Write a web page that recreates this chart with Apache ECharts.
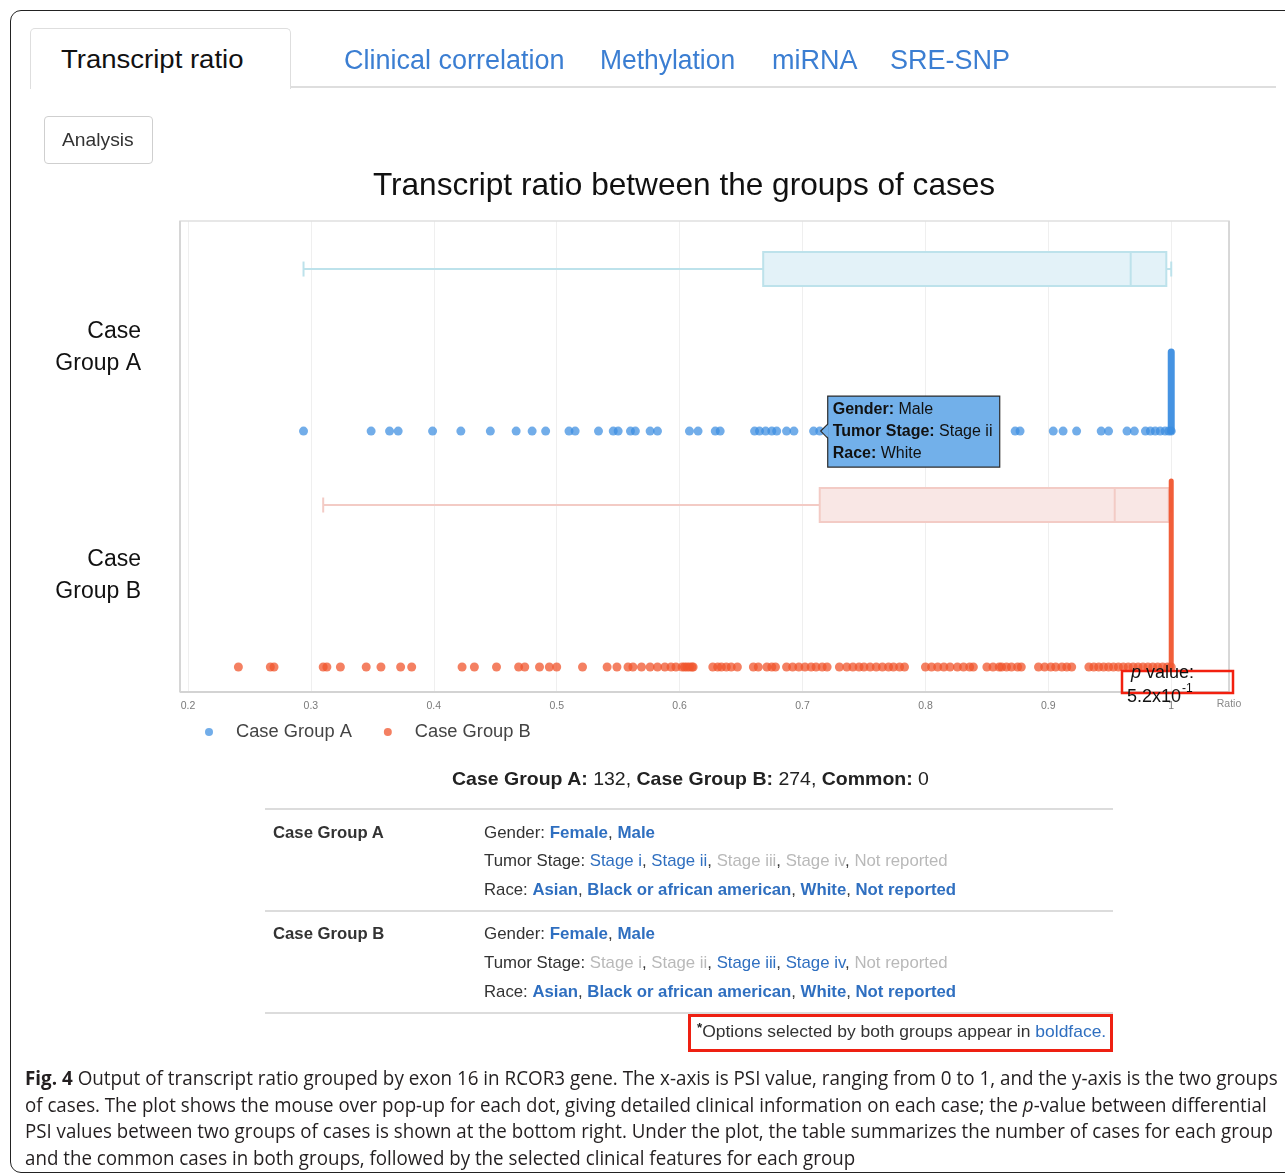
<!DOCTYPE html>
<html>
<head>
<meta charset="utf-8">
<script src="https://cdn.jsdelivr.net/npm/echarts@6/dist/echarts.min.js"></script>
<style>
html,body{margin:0;padding:0;background:#fff}
body{width:1285px;height:1176px;overflow:hidden;position:relative;font-family:"Liberation Sans",Arial,Helvetica,sans-serif;color:#333}
#chart{position:absolute;left:0;top:0;width:1285px;height:760px;z-index:1}
.box{position:absolute;box-sizing:border-box;z-index:2}
.t{position:absolute;white-space:nowrap;line-height:1.2;transform-origin:0 50%;z-index:3}
.lk{color:#2f6fc0}
.bl{color:#2f6fc0;font-weight:bold}
.gr{color:#b9b9b9}
.tab{color:#3b7ed2;font-size:27px}
.tb{font-size:17px;color:#333}
.cap{font-family:"Open Sans","Noto Sans",sans-serif;font-size:20px;color:#231f20}
</style>
</head>
<body>
<div id="chart"></div>

<div class="box" style="left:10px;top:10px;width:1300px;height:1163px;border:1.6px solid #222;border-radius:11px;"></div>
<div class="box" style="left:30px;top:28px;width:261px;height:61px;border:1px solid #dedede;border-bottom:none;border-radius:5px 5px 0 0;background:#fff"></div>
<div class="box" style="left:290px;top:86px;width:986px;height:2px;background:#dedede"></div>
<div class="box" style="left:44px;top:116px;width:109px;height:48px;border:1px solid #cfcfcf;border-radius:4px"></div>
<div class="box" style="left:265px;top:808px;width:848px;height:2px;background:#dcdcdc"></div>
<div class="box" style="left:265px;top:910px;width:848px;height:2px;background:#dcdcdc"></div>
<div class="box" style="left:265px;top:1012px;width:848px;height:2px;background:#dcdcdc"></div>
<div class="box" style="left:688px;top:1014px;width:425px;height:38px;border:3px solid #ee2012"></div>

<div class="t" style="font-size:26px;color:#111" data-x="61" data-y="59" data-w="182">Transcript ratio</div>
<div class="t tab" data-x="344" data-y="60" data-w="221">Clinical correlation</div>
<div class="t tab" data-x="600" data-y="60" data-w="135">Methylation</div>
<div class="t tab" data-x="772" data-y="60" data-w="86">miRNA</div>
<div class="t tab" data-x="890" data-y="60" data-w="120">SRE-SNP</div>
<div class="t" style="font-size:19px;color:#333" data-x="62" data-y="140" data-w="72">Analysis</div>

<div class="t" style="font-size:19px;color:#222" data-x="452" data-y="779" data-w="477"><b>Case Group A:</b> 132, <b>Case Group B:</b> 274, <b>Common:</b> 0</div>

<div class="t tb" style="font-weight:bold;color:#333" data-x="273" data-y="833" data-w="111">Case Group A</div>
<div class="t tb" data-x="484" data-y="833" data-w="171">Gender: <span class="bl">Female</span>, <span class="bl">Male</span></div>
<div class="t tb" data-x="484" data-y="861" data-w="464">Tumor Stage: <span class="lk">Stage i</span>, <span class="lk">Stage ii</span>, <span class="gr">Stage iii</span>, <span class="gr">Stage iv</span>, <span class="gr">Not reported</span></div>
<div class="t tb" data-x="484" data-y="890" data-w="472">Race: <span class="bl">Asian</span>, <span class="bl">Black or african american</span>, <span class="bl">White</span>, <span class="bl">Not reported</span></div>

<div class="t tb" style="font-weight:bold;color:#333" data-x="273" data-y="934" data-w="111">Case Group B</div>
<div class="t tb" data-x="484" data-y="934" data-w="171">Gender: <span class="bl">Female</span>, <span class="bl">Male</span></div>
<div class="t tb" data-x="484" data-y="963" data-w="464">Tumor Stage: <span class="gr">Stage i</span>, <span class="gr">Stage ii</span>, <span class="lk">Stage iii</span>, <span class="lk">Stage iv</span>, <span class="gr">Not reported</span></div>
<div class="t tb" data-x="484" data-y="992" data-w="472">Race: <span class="bl">Asian</span>, <span class="bl">Black or african american</span>, <span class="bl">White</span>, <span class="bl">Not reported</span></div>

<div class="t tb" data-x="697" data-y="1031" data-w="409"><b style="font-size:13px;vertical-align:5px;color:#222">*</b>Options selected by both groups appear in <span class="lk">boldface.</span></div>

<div class="t cap" data-x="25" data-y="1078" data-w="1253"><b>Fig. 4</b> Output of transcript ratio grouped by exon 16 in RCOR3 gene. The x-axis is PSI value, ranging from 0 to 1, and the y-axis is the two groups</div>
<div class="t cap" data-x="25" data-y="1105" data-w="1242">of cases. The plot shows the mouse over pop-up for each dot, giving detailed clinical information on each case; the <i>p</i>-value between differential</div>
<div class="t cap" data-x="25" data-y="1131" data-w="1248">PSI values between two groups of cases is shown at the bottom right. Under the plot, the table summarizes the number of cases for each group</div>
<div class="t cap" data-x="25" data-y="1158" data-w="830">and the common cases in both groups, followed by the selected clinical features for each group</div>

<script>
// ---------------- data ----------------
const chartTitle = 'Transcript ratio between the groups of cases';
const groupNames = ['Case Group A', 'Case Group B'];
const xTickValues = [0.2, 0.3, 0.4, 0.5, 0.6, 0.7, 0.8, 0.9, 1.0];
const xAxisName = 'Ratio';

// PSI ratio of each visible case dot
const groupARatios = [0.294, 0.349, 0.364, 0.371, 0.399, 0.422, 0.446, 0.467, 0.480, 0.491,
  0.510, 0.515, 0.534, 0.546, 0.550, 0.560, 0.564, 0.576, 0.582, 0.608, 0.615, 0.629, 0.633,
  0.661, 0.665, 0.670, 0.675, 0.679, 0.687, 0.693, 0.709, 0.714, 0.740, 0.770, 0.800, 0.830,
  0.873, 0.877, 0.904, 0.912, 0.923, 0.943, 0.949, 0.964, 0.970, 0.979, 0.983, 0.987, 0.991,
  0.995, 0.998, 1.0];
const groupBRatios = [0.241, 0.267, 0.270, 0.310, 0.313, 0.324, 0.345, 0.357, 0.373, 0.382,
  0.423, 0.433, 0.451, 0.469, 0.474, 0.486, 0.494, 0.500, 0.521, 0.541, 0.549, 0.558, 0.562,
  0.569, 0.576, 0.582, 0.588, 0.593, 0.597, 0.602, 0.604, 0.606, 0.608, 0.610, 0.611,
  0.627, 0.631, 0.634, 0.638, 0.642, 0.647, 0.660, 0.664, 0.671, 0.675, 0.678,
  0.687, 0.692, 0.697, 0.702, 0.707, 0.711, 0.716, 0.720, 0.730,
  0.736, 0.741, 0.746, 0.750, 0.755, 0.760, 0.765, 0.770, 0.774, 0.779, 0.783,
  0.800, 0.805, 0.810, 0.815, 0.820, 0.826, 0.831, 0.836, 0.839,
  0.850, 0.855, 0.860, 0.862, 0.866, 0.870, 0.875, 0.878,
  0.892, 0.897, 0.902, 0.906, 0.911, 0.915, 0.919,
  0.933, 0.937, 0.941, 0.945, 0.949, 0.953, 0.957, 0.961, 0.965, 0.969, 0.973, 0.977,
  0.981, 0.985, 0.989, 0.993, 0.997, 1.0];

// box statistics: [min, Q1, median, Q3, max]
const groupABox = [0.294, 0.668, 0.967, 0.996, 1.0];
const groupBBox = [0.310, 0.714, 0.954, 0.998, 1.0];

// many cases sit exactly at ratio 1 (drawn as a stacked bar of points)
const stackedRatio = 1.0;

// hovered case shown in the pop-up
const hoverRatio = 0.714;
const hoverInfo = [['Gender', 'Male'], ['Tumor Stage', 'Stage ii'], ['Race', 'White']];

const pValueMantissa = '5.2x10';
const pValueExponent = '-1';

// ---------------- layout (vertical rows on hidden value axis 0..10) ----------------
const rows = {
  A: { box: 8.98, points: 5.54, stackTop: 7.22, label: 7.32 },
  B: { box: 3.97, points: 0.53, stackTop: 4.48, label: 2.46 }
};
const X_MIN = 0.2, X_MAX = 1.047, Y_MIN = 0, Y_MAX = 10;

const colA = '#3b8de0', colB = '#f0552e';

function renderBox(params, api) {
  const pos = api.value(0);
  const xs = [1, 2, 3, 4, 5].map(i => api.coord([api.value(i), pos])[0]);
  const y = api.coord([api.value(1), pos])[1];
  const h = 34, cap = 7.5;
  const st = params.seriesIndex === 0
    ? { stroke: '#bde2eb', fill: '#e3f2f8' }
    : { stroke: '#f3cbc5', fill: '#f9e7e5' };
  const ls = { stroke: st.stroke, lineWidth: 2 };
  return {
    type: 'group',
    children: [
      { type: 'line', shape: { x1: xs[0], y1: y, x2: xs[1], y2: y }, style: ls },
      { type: 'line', shape: { x1: xs[3], y1: y, x2: xs[4], y2: y }, style: ls },
      { type: 'line', shape: { x1: xs[0], y1: y - cap, x2: xs[0], y2: y + cap }, style: ls },
      { type: 'line', shape: { x1: xs[4], y1: y - cap, x2: xs[4], y2: y + cap }, style: ls },
      { type: 'rect', shape: { x: xs[1], y: y - h / 2, width: xs[3] - xs[1], height: h },
        style: { fill: st.fill, stroke: st.stroke, lineWidth: 2 } },
      { type: 'line', shape: { x1: xs[2], y1: y - h / 2, x2: xs[2], y2: y + h / 2 }, style: ls }
    ]
  };
}

const chart = echarts.init(document.getElementById('chart'), null, { renderer: 'canvas' });
const baseFont = '"Liberation Sans", Arial, Helvetica, sans-serif';

const option = {
  animation: false,
  backgroundColor: 'transparent',
  textStyle: { fontFamily: baseFont },
  title: {
    text: chartTitle, left: 684, top: 170, textAlign: 'center', padding: 0,
    textStyle: { fontSize: 31.6, fontWeight: 'normal', color: '#111', fontFamily: baseFont }
  },
  legend: {
    data: groupNames, left: 200, top: 718, icon: 'circle',
    itemWidth: 8, itemHeight: 8, itemGap: 32,
    textStyle: { fontSize: 18.3, color: '#444', fontFamily: baseFont, padding: [0, 0, 0, 18] }
  },
  grid: { left: 188, right: 56, top: 221, bottom: 68, containLabel: false },
  xAxis: {
    type: 'value', min: X_MIN, max: X_MAX, interval: 0.1,
    name: xAxisName, nameLocation: 'end', nameGap: 0,
    nameTextStyle: { color: '#8a8a8a', fontSize: 10.5, align: 'center', verticalAlign: 'top', padding: [7, 0, 0, 0] },
    axisLine: { show: false }, axisTick: { show: false },
    axisLabel: {
      color: '#7a7a7a', fontSize: 10.5, margin: 9, showMaxLabel: false,
      formatter: v => {
        const hit = xTickValues.find(t => Math.abs(t - v) < 1e-6);
        return hit === undefined ? '' : String(+hit.toFixed(1));
      }
    },
    splitLine: { show: true, lineStyle: { color: '#efefef', width: 1 } }
  },
  yAxis: {
    type: 'value', min: Y_MIN, max: Y_MAX,
    axisLine: { show: false }, axisTick: { show: false }, splitLine: { show: false },
    axisLabel: {
      customValues: [rows.A.label, rows.B.label],
      formatter: v => {
        const name = Math.abs(v - rows.A.label) < 0.01 ? groupNames[0]
          : (Math.abs(v - rows.B.label) < 0.01 ? groupNames[1] : '');
        return name.replace(' ', '\n');
      },
      fontSize: 23, lineHeight: 32, color: '#111', margin: 47, align: 'right'
    }
  },
  series: [
    {
      name: groupNames[0] + ' box', type: 'custom', renderItem: renderBox, z: 1,
      encode: { x: [1, 2, 3, 4, 5], y: 0 },
      data: [[rows.A.box].concat(groupABox)], silent: true
    },
    {
      name: groupNames[1] + ' box', type: 'custom', renderItem: renderBox, z: 1,
      encode: { x: [1, 2, 3, 4, 5], y: 0 },
      data: [[rows.B.box].concat(groupBBox)], silent: true
    },
    {
      name: groupNames[0], type: 'scatter', symbolSize: 9, z: 3,
      itemStyle: { color: colA, opacity: 0.72 },
      data: groupARatios.map(v => [v, rows.A.points])
    },
    {
      name: groupNames[1], type: 'scatter', symbolSize: 9, z: 3,
      itemStyle: { color: colB, opacity: 0.75 },
      data: groupBRatios.map(v => [v, rows.B.points])
    },
    {
      name: groupNames[0] + ' at 1', type: 'line', symbol: 'none', z: 4,
      lineStyle: { color: colA, width: 7, cap: 'round', opacity: 0.95 },
      data: [[stackedRatio, rows.A.points], [stackedRatio, rows.A.stackTop]]
    },
    {
      name: groupNames[1] + ' at 1', type: 'line', symbol: 'none', z: 4,
      lineStyle: { color: colB, width: 5, cap: 'round', opacity: 0.95 },
      data: [[stackedRatio, rows.B.points], [stackedRatio, rows.B.stackTop]]
    }
  ]
};
chart.setOption(option);

// ---------------- overlays anchored through the axes ----------------
const tl = chart.convertToPixel({ gridIndex: 0 }, [X_MIN, Y_MAX]);
const br = chart.convertToPixel({ gridIndex: 0 }, [X_MAX, Y_MIN]);
const hp = chart.convertToPixel({ gridIndex: 0 }, [hoverRatio, rows.A.points]);

const tipX = hp[0] + 8, tipW = 172, tipH = 71, tipY = hp[1] - 35;
const tipFill = '#72b0ea';
const tipText = hoverInfo.map(d => '{b|' + d[0] + ':} ' + d[1]).join('\n');

chart.setOption({
  graphic: [
    // plot frame
    { type: 'rect', z: 0, silent: true,
      shape: { x: tl[0] - 8, y: tl[1], width: br[0] - tl[0] + 8, height: br[1] - tl[1] },
      style: { fill: 'none', stroke: '#e0e0e0', lineWidth: 1.5 } },
    { type: 'line', z: 0, silent: true,
      shape: { x1: tl[0] - 8, y1: tl[1], x2: tl[0] - 8, y2: br[1] },
      style: { stroke: '#d6d6d6', lineWidth: 2 } },
    { type: 'line', z: 0, silent: true,
      shape: { x1: tl[0] - 8, y1: br[1], x2: br[0], y2: br[1] },
      style: { stroke: '#d3d3d3', lineWidth: 2 } },
    { type: 'line', z: 0, silent: true,
      shape: { x1: br[0], y1: tl[1], x2: br[0], y2: br[1] },
      style: { stroke: '#d3d3d3', lineWidth: 1.5 } },
    // p value annotation
    { type: 'rect', z: 50,
      shape: { x: br[0] - 107, y: br[1] - 21, width: 111, height: 22 },
      style: { fill: 'none', stroke: '#f2200f', lineWidth: 2.5 } },
    { type: 'text', z: 51, x: br[0] - 98, y: br[1] - 19,
      style: { text: '{i|p} value:', fontSize: 18, fill: '#111', fontFamily: baseFont,
        verticalAlign: 'middle', rich: { i: { fontStyle: 'italic', fontSize: 18, fontFamily: baseFont } } } },
    { type: 'text', z: 51, x: br[0] - 102, y: br[1] + 5,
      style: { text: pValueMantissa, fontSize: 18, fill: '#111', fontFamily: baseFont, verticalAlign: 'middle' } },
    { type: 'text', z: 51, x: br[0] - 47, y: br[1] - 3,
      style: { text: pValueExponent, fontSize: 12, fill: '#111', fontFamily: baseFont, verticalAlign: 'middle' } },
    // hover pop-up
    { type: 'rect', z: 60, shape: { x: tipX, y: tipY, width: tipW, height: tipH },
      style: { fill: tipFill, stroke: '#2b2b2b', lineWidth: 1.2 } },
    { type: 'polygon', z: 61,
      shape: { points: [[tipX + 1, hp[1] - 7], [hp[0] + 1, hp[1]], [tipX + 1, hp[1] + 7]] },
      style: { fill: tipFill } },
    { type: 'polyline', z: 62,
      shape: { points: [[tipX, hp[1] - 7], [hp[0] + 1, hp[1]], [tipX, hp[1] + 7]] },
      style: { stroke: '#2b2b2b', lineWidth: 1.2, fill: 'none' } },
    { type: 'text', z: 63, x: tipX + 5, y: tipY + 3,
      style: { text: tipText, fontSize: 16, lineHeight: 22, fill: '#111', fontFamily: baseFont,
        verticalAlign: 'top', rich: { b: { fontWeight: 'bold', fontSize: 16, lineHeight: 22, fontFamily: baseFont } } } }
  ]
});

// ---------------- fit page texts ----------------
document.querySelectorAll('.t').forEach(el => {
  const x = +el.dataset.x, y = +el.dataset.y, w = +el.dataset.w;
  el.style.left = x + 'px';
  el.style.top = (y - el.offsetHeight / 2) + 'px';
  if (w) el.style.transform = 'scaleX(' + (w / el.offsetWidth) + ')';
});
</script>
</body>
</html>
